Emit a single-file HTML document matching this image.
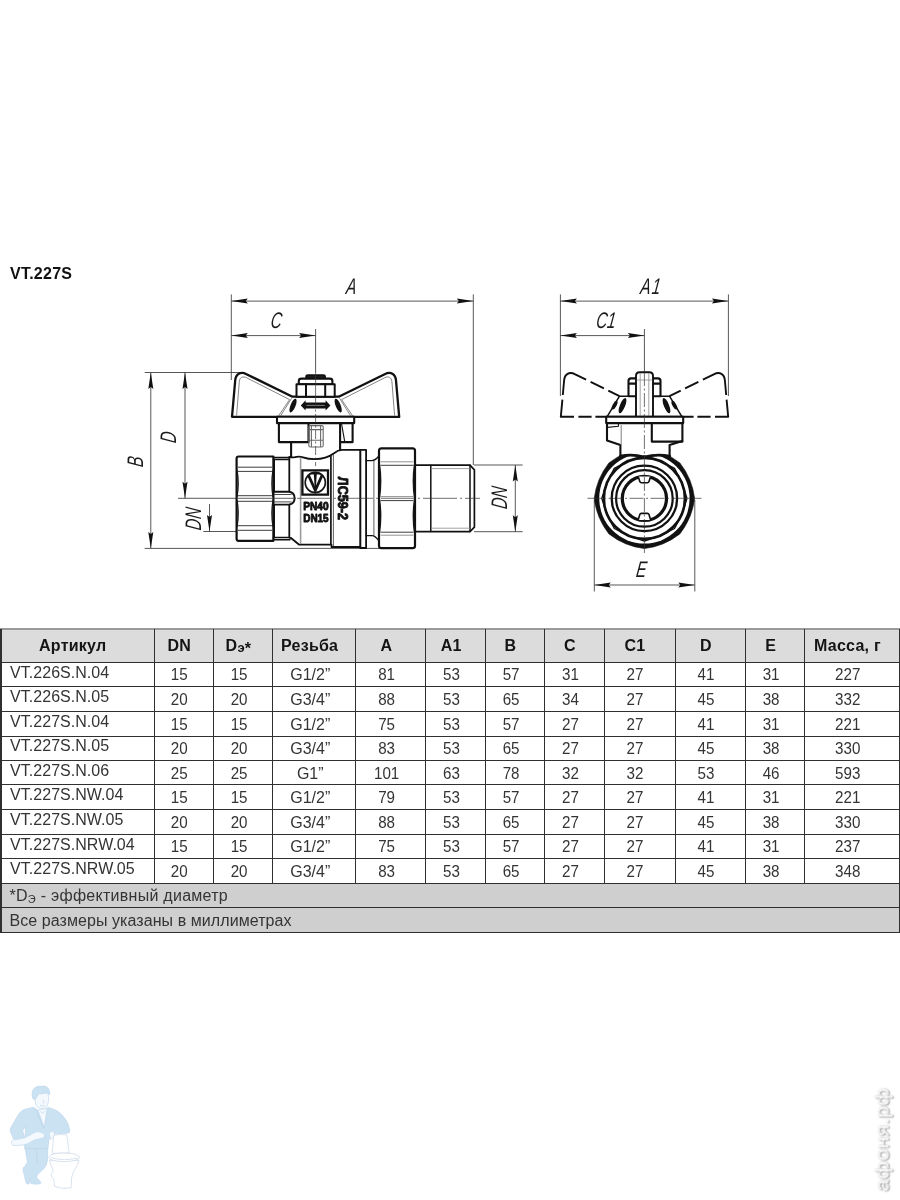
<!DOCTYPE html>
<html lang="ru">
<head>
<meta charset="utf-8">
<title>VT.227S</title>
<style>
html,body{margin:0;padding:0;background:#fff;}
body{width:900px;height:1200px;position:relative;overflow:hidden;font-family:"Liberation Sans",sans-serif;color:#1a1a1a;}
.title{position:absolute;left:9.5px;top:264px;font-weight:bold;font-size:16px;line-height:20px;color:#111;letter-spacing:0.25px;will-change:transform;}
svg.dr{position:absolute;left:0;top:0;will-change:transform;}
.tb{position:absolute;left:0;top:0;width:900px;height:1200px;will-change:transform;}
.tb .bg{position:absolute;left:0;width:900px;}
.tb .hd{background:#dcdcdc;}
.tb .ft{background:#cfcfcf;}
.tb .c{position:absolute;box-sizing:border-box;font-size:16px;white-space:nowrap;color:#343434;}
.tb .h{font-weight:bold;text-align:center;line-height:20px;padding-top:7.1px;color:#141414;letter-spacing:0.25px;transform:translateX(-4.7px);}
.tb .a{text-align:left;padding-left:9.5px;line-height:20px;padding-top:0.3px;font-size:16px;letter-spacing:0.03px;}
.tb .n{text-align:center;line-height:20px;padding-top:2.0px;font-size:16.5px;transform:translateX(-4.4px) scaleX(0.92);}
.tb .n.th{transform:translateX(-4.4px) scaleX(0.97);}
.tb .f{text-align:left;padding-left:9.5px;line-height:20px;padding-top:3px;font-size:16px;letter-spacing:0.07px;}
.tb sub{font-size:11px;vertical-align:baseline;position:relative;top:2px;}
.tb .hl{position:absolute;left:0;width:900px;height:1.2px;background:#303030;}
.tb .hl.top{height:1.6px;background:#9a9a9a;}
.tb .vl{position:absolute;width:1.3px;background:#303030;}
.wmt{position:absolute;left:0;top:0;height:0;white-space:nowrap;font-size:17.5px;line-height:0;letter-spacing:0.2px;color:#fff;text-shadow:-0.4px 1px 1.4px #7d7d7d,0 0 1.2px #b5b5b5;transform-origin:0 0;transform:translate(882.6px,1191.5px) rotate(-90deg) scaleX(1.24);}
.tb .h sub{font-size:13px;top:0.5px;}
.tb .h .as{position:relative;top:3px;}
svg.dr .k{fill:none;stroke:#111;stroke-width:2.1;stroke-linejoin:round;stroke-linecap:round}
svg.dr .kf{fill:#fff;stroke:#111;stroke-width:2.1;stroke-linejoin:round}
svg.dr .m{fill:none;stroke:#151515;stroke-width:1.15;stroke-linejoin:round}
svg.dr .t{fill:none;stroke:#2b2b2b;stroke-width:0.75}
svg.dr .g{fill:none;stroke:#8a8a8a;stroke-width:0.8}
svg.dr .d{fill:none;stroke:#3a3a3a;stroke-width:0.85}
svg.dr .ar{fill:#111;stroke:none}
svg.dr .cl{fill:none;stroke:#333;stroke-width:0.7;stroke-dasharray:14 2.5 2 2.5}
svg.dr .ds{fill:none;stroke:#111;stroke-width:1.9;stroke-dasharray:13.5 5;stroke-linejoin:round}
svg.dr .gt{font-family:"Liberation Sans",sans-serif;font-style:italic;font-size:22.5px;fill:#1c1c1c;text-anchor:middle}
svg.dr .bt{font-family:"Liberation Sans",sans-serif;font-weight:bold;fill:#111}
</style>
</head>
<body>

<div class="title">VT.227S</div>
<svg class="dr" width="900" height="1200" viewBox="0 0 900 1200">


<!-- ===== dimension lines, left view ===== -->
<g class="d">
<path d="M231.3,294.4V380 M473.3,294.4V465 M231.3,301.1H473.3"/>
<path d="M315.6,329V372 M231.3,335.6H315.6"/>
<path d="M144.7,372.5H242 M144.7,548.4H380 M150.8,372.5V548.4 M185,372.5V498.3"/>
<path d="M178,498.3H236 M209.5,504V531.4 M203.3,531.5H236"/>
<path d="M474,465H522.7 M474,531.7H522.7 M515.3,465V531.7"/>
</g>
<g class="ar">
<path d="M0,0 L16.5,-2.5 L14.5,0 L16.5,2.5 Z" transform="translate(231.3,301.1)"/>
<path d="M0,0 L16.5,-2.5 L14.5,0 L16.5,2.5 Z" transform="translate(473.3,301.1) rotate(180)"/>
<path d="M0,0 L16.5,-2.5 L14.5,0 L16.5,2.5 Z" transform="translate(231.3,335.6)"/>
<path d="M0,0 L16.5,-2.5 L14.5,0 L16.5,2.5 Z" transform="translate(315.6,335.6) rotate(180)"/>
<path d="M0,0 L16.5,-2.5 L14.5,0 L16.5,2.5 Z" transform="translate(150.8,372.5) rotate(90)"/>
<path d="M0,0 L16.5,-2.5 L14.5,0 L16.5,2.5 Z" transform="translate(150.8,548.4) rotate(-90)"/>
<path d="M0,0 L16.5,-2.5 L14.5,0 L16.5,2.5 Z" transform="translate(185,372.5) rotate(90)"/>
<path d="M0,0 L16.5,-2.5 L14.5,0 L16.5,2.5 Z" transform="translate(185,498.3) rotate(-90)"/>
<path d="M0,0 L16.5,-2.5 L14.5,0 L16.5,2.5 Z" transform="translate(209.5,531.4) rotate(-90)"/>
<path d="M0,0 L16.5,-2.5 L14.5,0 L16.5,2.5 Z" transform="translate(515.3,465) rotate(90)"/>
<path d="M0,0 L16.5,-2.5 L14.5,0 L16.5,2.5 Z" transform="translate(515.3,531.7) rotate(-90)"/>
</g>
<!-- centre lines left view -->

<!-- ===== dimension lines, right view ===== -->
<g class="d">
<path d="M560.4,294.4V396 M728.4,294.4V396 M560.4,301.1H728.4"/>
<path d="M644.4,329V372 M560.4,335.6H644.4"/>
<path d="M594.3,500V591.5 M694.8,500V591.5 M594.3,585H694.8"/>
</g>
<g class="ar">
<path d="M0,0 L16.5,-2.5 L14.5,0 L16.5,2.5 Z" transform="translate(560.4,301.1)"/>
<path d="M0,0 L16.5,-2.5 L14.5,0 L16.5,2.5 Z" transform="translate(728.4,301.1) rotate(180)"/>
<path d="M0,0 L16.5,-2.5 L14.5,0 L16.5,2.5 Z" transform="translate(560.4,335.6)"/>
<path d="M0,0 L16.5,-2.5 L14.5,0 L16.5,2.5 Z" transform="translate(644.4,335.6) rotate(180)"/>
<path d="M0,0 L16.5,-2.5 L14.5,0 L16.5,2.5 Z" transform="translate(594.3,585)"/>
<path d="M0,0 L16.5,-2.5 L14.5,0 L16.5,2.5 Z" transform="translate(694.8,585) rotate(180)"/>
</g>

<!-- ===== labels ===== -->
<g class="gt">
<text transform="translate(350.5,294) skewX(-7.5) scale(0.68,1)">A</text>
<text transform="translate(275.6,328) skewX(-7.5) scale(0.68,1)">C</text>
<text transform="translate(650.4,293.5) skewX(-7.5) scale(0.68,1)" letter-spacing="2">A1</text>
<text transform="translate(605.2,328) skewX(-7.5) scale(0.68,1)">C1</text>
<text transform="translate(640.6,577) skewX(-7.5) scale(0.68,1)">E</text>
<text transform="translate(143,462.3) rotate(-90) skewX(-7.5) scale(0.68,1)">B</text>
<text transform="translate(176,438) rotate(-90) skewX(-7.5) scale(0.68,1)">D</text>
<text transform="translate(200.8,519.6) rotate(-90) skewX(-7.5) scale(0.68,1)">DN</text>
<text transform="translate(506.8,498.4) rotate(-90) skewX(-7.5) scale(0.68,1)">DN</text>
</g>
<!-- ===== LEFT VIEW ===== -->
<g id="leftview">
<!-- handle wings -->
<path class="k" d="M232,416.8 L235.2,380.5 C235.7,374 240.5,371.2 246.5,374.2 L292.5,396.7 H338.7 L384.7,374.2 C390.7,371.2 395.5,374 396,380.5 L399.2,416.8 Z" style="stroke-width:2.3"/>
<path class="g" d="M236.6,415.5 L239.3,381.5 C239.8,377 243,376 246.6,377.8 L289.6,399.6 L278.6,415.8 M291.6,398.3 L280.6,415.8" style="stroke:#666"/>
<path class="g" d="M394.6,415.5 L391.9,381.5 C391.4,377 388.2,376 384.6,377.8 L341.6,399.6 L352.6,415.8 M339.6,398.3 L350.6,415.8" style="stroke:#666"/>
<!-- top nut -->
<path class="kf" d="M306.3,378.6 V376.4 Q306.3,375.2 307.8,375.2 H323.4 Q324.9,375.2 324.9,376.4 V378.6 Z" style="fill:#222"/>
<path class="kf" d="M298.8,384.2 V381 Q298.8,378.6 301.5,378.6 H329.7 Q332.4,378.6 332.4,381 V384.2 Z"/>
<path class="kf" d="M296.5,384.2 H334.7 V396.7 H296.5 Z" style="stroke-width:2"/>
<path class="k" d="M306,384.2 V396.7 M325.2,384.2 V396.7" style="stroke-width:2"/>
<!-- slots -->
<ellipse cx="293" cy="405.6" rx="2.5" ry="7.4" transform="rotate(22 293 405.6)" fill="#111"/>
<ellipse cx="338.2" cy="405.6" rx="2.5" ry="7.4" transform="rotate(-22 338.2 405.6)" fill="#111"/>
<!-- double arrow -->
<path d="M300.8,405.4 L305.6,400.2 V402.4 H325.6 V400.2 L330.4,405.4 L325.6,410.6 V408.4 H305.6 V410.6 Z" fill="#111"/>
<path d="M306.5,405.4 H324.7" stroke="#999" stroke-width="0.8" fill="none"/>
<!-- plate -->
<path class="kf" d="M277,416.8 H354.2 V423.1 H277 Z"/>
<!-- boxes under plate -->
<path class="k" d="M278.9,423.1 V442.1 H308.5 V423.1"/>
<path class="k" d="M340.1,423.1 V450 M340.1,442.1 H352.6 V423.1"/>
<path class="m" d="M341.6,424 L344.6,441"/>
<!-- screw -->
<path class="g" d="M308.8,427 Q308.8,425.6 310.4,425.6 H321.6 Q323.2,425.6 323.2,427 V445.6 Q323.2,447 321.6,447 H310.4 Q308.8,447 308.8,445.6 Z M308.8,429.6 H323.2 M308.8,440.2 H323.2 M311.4,425.6 V447 M320.6,425.6 V447" style="stroke-width:1.1;stroke:#6a6a6a"/>
<!-- stem -->
<path class="k" d="M291.1,442.1 V457"/>
<!-- hex nut left -->
<path class="kf" d="M238.6,456.5 H273.4 V540.8 H238.6 Q236.6,540.8 236.6,538.8 V458.5 Q236.6,456.5 238.6,456.5 Z" style="stroke-width:2.2"/>
<path class="m" d="M237,470 Q239.4,483.5 237,497 M237,500 Q239.4,513.5 237,527 M273,470 Q270.8,483.5 273,497 M273,500 Q270.8,513.5 273,527" style="stroke-width:1.3"/>
<path class="t" d="M238,467.2 H272 M238,471.4 H272 M238,495.7 H272 M238,501.3 H272 M238,525.7 H272 M238,530.3 H272" style="stroke:#333;stroke-width:0.95"/>
<!-- neck left -->
<path class="k" d="M273.4,457.4 H289.2 M273.4,459.4 H289.2 M273.4,537.6 H289.2 M273.4,539.8 H290" style="stroke-width:1.5"/>
<path class="k" d="M274.2,460 V491.6 M274.2,504.8 V537" style="stroke-width:1.6"/>
<path class="k" d="M273.4,491.8 H289 Q294.6,492.6 294.6,498.2 Q294.6,503.8 289,504.6 H273.4" style="stroke-width:1.9"/>
<path class="t" d="M274,494.5 H291.5 M274,501.9 H291.5" style="stroke:#333;stroke-width:0.9"/>
<!-- body -->
<path class="k" d="M289.3,457 V491.4 M289.3,504.6 V537.6 L291,538 L299.2,544.7 H331.5 V547 H360.3 V548 H366.1 V449.9 H342 Q338,450 334,453.3 Q326,459.2 315,459.2 Q308,459.2 303,457.4 Q299,456 295,457.2 Q292,457.6 289.3,457" style="stroke-width:1.8"/>
<path class="k" d="M360.3,449.9 V547.4" style="stroke-width:2"/>
<path class="g" d="M300.6,457.6 V544" style="stroke-width:1.6;stroke:#9c9c9c"/>
<path class="m" d="M330.9,455.5 V545" style="stroke-width:1.7"/>
<path class="t" d="M333.4,454 V546"/>
<!-- logo -->
<path class="k" d="M302.4,470.4 H328 V494.6 H302.4 Z" style="stroke-width:2.3;stroke-linejoin:miter"/>
<circle class="m" cx="315.3" cy="482.5" r="10.1" style="stroke-width:1.6"/>
<path class="m" d="M308.2,474.6 L315.3,490.4 L322.4,474.6" style="stroke-width:2.7;stroke-linejoin:miter"/>
<path class="m" d="M310.6,473.6 H320" style="stroke-width:1.7"/>
<path d="M313.8,473.6 H316.8 L315.9,487.5 H314.7 Z" fill="#111"/>
<text class="bt" transform="translate(303.2,509.6) scale(0.88,1)" font-size="11.6" stroke="#111" stroke-width="0.9" stroke-linejoin="round">PN40</text>
<text class="bt" transform="translate(303.2,522.3) scale(0.86,1)" font-size="11.6" stroke="#111" stroke-width="0.9" stroke-linejoin="round">DN15</text>
<text class="bt" transform="translate(338,476.8) rotate(90) scale(0.84,1)" font-size="15" stroke="#111" stroke-width="0.9" stroke-linejoin="round">ЛС59-2</text>
<!-- neck right -->
<path class="k" d="M366.1,460.6 H372 Q375,460.6 378.9,456 M366.1,535.6 H372 Q375,535.6 378.9,540.6" style="stroke-width:1.4"/>
<path class="t" d="M373.9,460.6 V535.6"/>
<!-- union nut -->
<path class="kf" d="M381.4,448.4 H412.6 Q415,448.4 415,450.8 V545.8 Q415,548.2 412.6,548.2 H381.4 Q379,548.2 379,545.8 V450.8 Q379,448.4 381.4,448.4 Z" style="stroke-width:2.2"/>
<path class="m" d="M379.4,464 Q382,481 379.4,498 M379.4,499 Q382,516 379.4,533 M414.6,464 Q412,481 414.6,498 M414.6,499 Q412,516 414.6,533" style="stroke-width:1.4"/>
<path class="g" d="M380.6,461.8 H413.4 M380.6,496.6 H413.4 M380.6,535.2 H413.4" style="stroke:#777"/>
<path class="t" d="M380.6,465.3 H413.4 M380.6,500.6 H413.4 M380.6,532.2 H413.4" style="stroke:#333;stroke-width:0.95"/>
<!-- male thread -->
<path class="k" d="M415,465.2 H470 L474.4,469.8 V527.2 L470,531.6 H415" style="stroke-width:1.7"/>
<path class="k" d="M430.8,465.2 V531.6 M470,465.2 V531.6" style="stroke-width:1.5"/>
<path class="g" d="M431,468.6 H470 M431,528.2 H470"/>
</g>

<!-- ===== RIGHT VIEW ===== -->
<g id="rightview">
<!-- body circles -->
<path d="M694.6,498.4 Q692.2,478.6 679.9,462.9 Q664.2,450.6 644.4,448.2 Q624.6,450.6 608.9,462.9 Q596.6,478.6 594.2,498.4 Q596.6,518.2 608.9,533.9 Q624.6,546.2 644.4,548.6 Q664.2,546.2 679.9,533.9 Q692.2,518.2 694.6,498.4 Z" fill="#111" stroke="#111" stroke-width="0.6" stroke-linejoin="round"/>
<circle cx="644.4" cy="498.4" r="45.2" fill="#fff"/>
<path d="M621.6,440 H668.4 V455.4 H621.6 Z" fill="#fff"/>
<path class="k" d="M687.0,498.4 Q682.6,482.6 674.5,468.3 Q660.2,460.2 644.4,455.8 Q628.6,460.2 614.3,468.3 Q606.2,482.6 601.8,498.4 Q606.2,514.2 614.3,528.5 Q628.6,536.6 644.4,541.0 Q660.2,536.6 674.5,528.5 Q682.6,514.2 687.0,498.4 Z" style="stroke-width:1.4"/>
<circle class="k" cx="644.4" cy="498.4" r="40.5" style="stroke-width:2.6"/>
<circle class="k" cx="644.4" cy="498.4" r="32.7" style="stroke-width:2.3"/>
<circle class="k" cx="644.4" cy="498.4" r="28.3" style="stroke-width:2.2"/>
<circle class="k" cx="644.4" cy="498.4" r="22.1" style="stroke-width:3.2"/>
<path class="k" d="M620.4,456.2 Q632,453.8 644.4,457 Q656.8,453.8 669.6,456.2" style="stroke-width:2.8"/>
<!-- keys -->
<path class="kf" d="M638.2,476.6 L639.8,481.6 Q640.2,482.8 641.4,482.8 H647.4 Q648.6,482.8 649,481.6 L650.6,476.6" style="stroke-width:1.6"/>
<path class="kf" d="M638.2,520 L639.8,514.6 Q640.2,513.4 641.4,513.4 H647.4 Q648.6,513.4 649,514.6 L650.6,520" style="stroke-width:1.6"/>

<!-- dashed handle wings -->
<path class="k" d="M619.5,396.2 L608.3,390.6 M603.9,388.4 L590.6,381.8 M586.1,379.6 L575.2,374.3 C569.2,371.3 564.6,374 564.1,380.5 L562.8,395 M562.4,399.6 L560.8,416.8 L574.0,416.8 M578.4,416.8 L591.6,416.8 M595.4,416.8 L607.0,416.8" style="stroke-width:1.9;stroke-linecap:butt"/>
<path class="k" d="M669.5,396.2 L680.7,390.6 M685.1,388.4 L698.4,381.8 M702.9,379.6 L713.8,374.3 C719.8,371.3 724.4,374 724.9,380.5 L726.2,395 M726.6,399.6 L728.2,416.8 L715.0,416.8 M710.6,416.8 L697.4,416.8 M693.6,416.8 L682.0,416.8" style="stroke-width:1.9;stroke-linecap:butt"/>
<path class="k" d="M607,416.8 H682" />
<!-- hub -->
<path class="k" d="M628.5,396.2 H619.5 L607,416.8 M660.5,396.2 H669.5 L682,416.8" style="stroke-width:1.5"/>
<!-- side nut bits -->
<path class="k" d="M636,378.4 H631 Q628.5,378.4 628.5,381 V396.2 H636 M653,378.4 H658 Q660.5,378.4 660.5,381 V396.2 H653 M628.5,383.6 H636 M653,383.6 H660.5"/>
<!-- stud -->
<path class="kf" d="M636,416.8 V376 Q636,372.3 639.6,372.3 H649.4 Q653,372.3 653,376 V416.8 Z" style="stroke-width:1.9"/>
<path class="g" d="M640.2,373 V416 M648.8,373 V416 M636.5,380 H652.5"/>
<!-- slots -->
<ellipse cx="622.5" cy="405.6" rx="2.6" ry="8.2" transform="rotate(22 622.5 405.6)" fill="#111"/>
<ellipse cx="614.6" cy="405.2" rx="1.9" ry="4.8" transform="rotate(30 614.6 405.2)" fill="#111"/>
<ellipse cx="666.5" cy="405.6" rx="2.6" ry="8.2" transform="rotate(-22 666.5 405.6)" fill="#111"/>
<ellipse cx="674.4" cy="405.2" rx="1.9" ry="4.8" transform="rotate(-30 674.4 405.2)" fill="#111"/>
<!-- plate -->
<path class="kf" d="M606.2,416.8 H683.2 V423.1 H606.2 Z"/>
<!-- housing under plate -->
<path class="k" d="M607,423.1 V440.4 L620.4,445 V456.6 M682.4,423.1 V441 L669.6,445 V456.6"/>
<path class="k" d="M651.8,423.1 V441.6 H682.4" />
<path class="m" d="M607.5,427.4 L618.4,426.2 V424" />
<path class="g" d="M621.2,425 V445" style="stroke-width:1.1"/>
</g>

<!-- centre lines -->
<path class="d" d="M236,498.3H296" style="stroke-width:0.8"/>
<path class="cl" d="M297,498.3H480" style="stroke-dasharray:34 3 2 3"/>
<path class="d" d="M315.6,372V398" style="stroke-width:0.7"/>
<path class="cl" d="M315.6,398V466" style="stroke-dasharray:9 2.5 2 2.5"/>
<path class="cl" d="M587.5,498.3H701.5"/>
<path class="cl" d="M644.4,372V553"/>
</svg>

<div class="tb">
<div class="bg hd" style="top:629px;height:33.4px"></div>
<div class="bg ft" style="top:883.3px;height:48.8px"></div>
<div class="c h" style="left:0.6px;width:153.7px;top:629px;height:33.4px">Артикул</div>
<div class="c h" style="left:154.3px;width:59.4px;top:629px;height:33.4px">DN</div>
<div class="c h" style="left:213.7px;width:59.0px;top:629px;height:33.4px">D<sub>э</sub><span class="as">*</span></div>
<div class="c h" style="left:272.7px;width:83.3px;top:629px;height:33.4px">Резьба</div>
<div class="c h" style="left:356px;width:70px;top:629px;height:33.4px">A</div>
<div class="c h" style="left:426px;width:59.7px;top:629px;height:33.4px">A1</div>
<div class="c h" style="left:485.7px;width:59px;top:629px;height:33.4px">B</div>
<div class="c h" style="left:544.7px;width:59.6px;top:629px;height:33.4px">C</div>
<div class="c h" style="left:604.3px;width:70.9px;top:629px;height:33.4px">C1</div>
<div class="c h" style="left:675.2px;width:70.8px;top:629px;height:33.4px">D</div>
<div class="c h" style="left:746px;width:59px;top:629px;height:33.4px">E</div>
<div class="c h" style="left:805px;width:94.4px;top:629px;height:33.4px">Масса, г</div>
<div class="c a" style="left:0.6px;width:153.7px;top:662.4px;height:24.6px">VT.226S.N.04</div>
<div class="c n" style="left:154.3px;width:59.4px;top:662.4px;height:24.6px">15</div>
<div class="c n" style="left:213.7px;width:59.0px;top:662.4px;height:24.6px">15</div>
<div class="c n th" style="left:272.7px;width:83.3px;top:662.4px;height:24.6px">G1/2”</div>
<div class="c n" style="left:356px;width:70px;top:662.4px;height:24.6px">81</div>
<div class="c n" style="left:426px;width:59.7px;top:662.4px;height:24.6px">53</div>
<div class="c n" style="left:485.7px;width:59px;top:662.4px;height:24.6px">57</div>
<div class="c n" style="left:544.7px;width:59.6px;top:662.4px;height:24.6px">31</div>
<div class="c n" style="left:604.3px;width:70.9px;top:662.4px;height:24.6px">27</div>
<div class="c n" style="left:675.2px;width:70.8px;top:662.4px;height:24.6px">41</div>
<div class="c n" style="left:746px;width:59px;top:662.4px;height:24.6px">31</div>
<div class="c n" style="left:805px;width:94.4px;top:662.4px;height:24.6px">227</div>
<div class="c a" style="left:0.6px;width:153.7px;top:687.0px;height:24.6px">VT.226S.N.05</div>
<div class="c n" style="left:154.3px;width:59.4px;top:687.0px;height:24.6px">20</div>
<div class="c n" style="left:213.7px;width:59.0px;top:687.0px;height:24.6px">20</div>
<div class="c n th" style="left:272.7px;width:83.3px;top:687.0px;height:24.6px">G3/4”</div>
<div class="c n" style="left:356px;width:70px;top:687.0px;height:24.6px">88</div>
<div class="c n" style="left:426px;width:59.7px;top:687.0px;height:24.6px">53</div>
<div class="c n" style="left:485.7px;width:59px;top:687.0px;height:24.6px">65</div>
<div class="c n" style="left:544.7px;width:59.6px;top:687.0px;height:24.6px">34</div>
<div class="c n" style="left:604.3px;width:70.9px;top:687.0px;height:24.6px">27</div>
<div class="c n" style="left:675.2px;width:70.8px;top:687.0px;height:24.6px">45</div>
<div class="c n" style="left:746px;width:59px;top:687.0px;height:24.6px">38</div>
<div class="c n" style="left:805px;width:94.4px;top:687.0px;height:24.6px">332</div>
<div class="c a" style="left:0.6px;width:153.7px;top:711.6px;height:24.6px">VT.227S.N.04</div>
<div class="c n" style="left:154.3px;width:59.4px;top:711.6px;height:24.6px">15</div>
<div class="c n" style="left:213.7px;width:59.0px;top:711.6px;height:24.6px">15</div>
<div class="c n th" style="left:272.7px;width:83.3px;top:711.6px;height:24.6px">G1/2”</div>
<div class="c n" style="left:356px;width:70px;top:711.6px;height:24.6px">75</div>
<div class="c n" style="left:426px;width:59.7px;top:711.6px;height:24.6px">53</div>
<div class="c n" style="left:485.7px;width:59px;top:711.6px;height:24.6px">57</div>
<div class="c n" style="left:544.7px;width:59.6px;top:711.6px;height:24.6px">27</div>
<div class="c n" style="left:604.3px;width:70.9px;top:711.6px;height:24.6px">27</div>
<div class="c n" style="left:675.2px;width:70.8px;top:711.6px;height:24.6px">41</div>
<div class="c n" style="left:746px;width:59px;top:711.6px;height:24.6px">31</div>
<div class="c n" style="left:805px;width:94.4px;top:711.6px;height:24.6px">221</div>
<div class="c a" style="left:0.6px;width:153.7px;top:736.2px;height:24.5px">VT.227S.N.05</div>
<div class="c n" style="left:154.3px;width:59.4px;top:736.2px;height:24.5px">20</div>
<div class="c n" style="left:213.7px;width:59.0px;top:736.2px;height:24.5px">20</div>
<div class="c n th" style="left:272.7px;width:83.3px;top:736.2px;height:24.5px">G3/4”</div>
<div class="c n" style="left:356px;width:70px;top:736.2px;height:24.5px">83</div>
<div class="c n" style="left:426px;width:59.7px;top:736.2px;height:24.5px">53</div>
<div class="c n" style="left:485.7px;width:59px;top:736.2px;height:24.5px">65</div>
<div class="c n" style="left:544.7px;width:59.6px;top:736.2px;height:24.5px">27</div>
<div class="c n" style="left:604.3px;width:70.9px;top:736.2px;height:24.5px">27</div>
<div class="c n" style="left:675.2px;width:70.8px;top:736.2px;height:24.5px">45</div>
<div class="c n" style="left:746px;width:59px;top:736.2px;height:24.5px">38</div>
<div class="c n" style="left:805px;width:94.4px;top:736.2px;height:24.5px">330</div>
<div class="c a" style="left:0.6px;width:153.7px;top:760.7px;height:24.4px">VT.227S.N.06</div>
<div class="c n" style="left:154.3px;width:59.4px;top:760.7px;height:24.4px">25</div>
<div class="c n" style="left:213.7px;width:59.0px;top:760.7px;height:24.4px">25</div>
<div class="c n th" style="left:272.7px;width:83.3px;top:760.7px;height:24.4px">G1”</div>
<div class="c n" style="left:356px;width:70px;top:760.7px;height:24.4px">101</div>
<div class="c n" style="left:426px;width:59.7px;top:760.7px;height:24.4px">63</div>
<div class="c n" style="left:485.7px;width:59px;top:760.7px;height:24.4px">78</div>
<div class="c n" style="left:544.7px;width:59.6px;top:760.7px;height:24.4px">32</div>
<div class="c n" style="left:604.3px;width:70.9px;top:760.7px;height:24.4px">32</div>
<div class="c n" style="left:675.2px;width:70.8px;top:760.7px;height:24.4px">53</div>
<div class="c n" style="left:746px;width:59px;top:760.7px;height:24.4px">46</div>
<div class="c n" style="left:805px;width:94.4px;top:760.7px;height:24.4px">593</div>
<div class="c a" style="left:0.6px;width:153.7px;top:785.1px;height:24.6px">VT.227S.NW.04</div>
<div class="c n" style="left:154.3px;width:59.4px;top:785.1px;height:24.6px">15</div>
<div class="c n" style="left:213.7px;width:59.0px;top:785.1px;height:24.6px">15</div>
<div class="c n th" style="left:272.7px;width:83.3px;top:785.1px;height:24.6px">G1/2”</div>
<div class="c n" style="left:356px;width:70px;top:785.1px;height:24.6px">79</div>
<div class="c n" style="left:426px;width:59.7px;top:785.1px;height:24.6px">53</div>
<div class="c n" style="left:485.7px;width:59px;top:785.1px;height:24.6px">57</div>
<div class="c n" style="left:544.7px;width:59.6px;top:785.1px;height:24.6px">27</div>
<div class="c n" style="left:604.3px;width:70.9px;top:785.1px;height:24.6px">27</div>
<div class="c n" style="left:675.2px;width:70.8px;top:785.1px;height:24.6px">41</div>
<div class="c n" style="left:746px;width:59px;top:785.1px;height:24.6px">31</div>
<div class="c n" style="left:805px;width:94.4px;top:785.1px;height:24.6px">221</div>
<div class="c a" style="left:0.6px;width:153.7px;top:809.7px;height:24.6px">VT.227S.NW.05</div>
<div class="c n" style="left:154.3px;width:59.4px;top:809.7px;height:24.6px">20</div>
<div class="c n" style="left:213.7px;width:59.0px;top:809.7px;height:24.6px">20</div>
<div class="c n th" style="left:272.7px;width:83.3px;top:809.7px;height:24.6px">G3/4”</div>
<div class="c n" style="left:356px;width:70px;top:809.7px;height:24.6px">88</div>
<div class="c n" style="left:426px;width:59.7px;top:809.7px;height:24.6px">53</div>
<div class="c n" style="left:485.7px;width:59px;top:809.7px;height:24.6px">65</div>
<div class="c n" style="left:544.7px;width:59.6px;top:809.7px;height:24.6px">27</div>
<div class="c n" style="left:604.3px;width:70.9px;top:809.7px;height:24.6px">27</div>
<div class="c n" style="left:675.2px;width:70.8px;top:809.7px;height:24.6px">45</div>
<div class="c n" style="left:746px;width:59px;top:809.7px;height:24.6px">38</div>
<div class="c n" style="left:805px;width:94.4px;top:809.7px;height:24.6px">330</div>
<div class="c a" style="left:0.6px;width:153.7px;top:834.3px;height:24.5px">VT.227S.NRW.04</div>
<div class="c n" style="left:154.3px;width:59.4px;top:834.3px;height:24.5px">15</div>
<div class="c n" style="left:213.7px;width:59.0px;top:834.3px;height:24.5px">15</div>
<div class="c n th" style="left:272.7px;width:83.3px;top:834.3px;height:24.5px">G1/2”</div>
<div class="c n" style="left:356px;width:70px;top:834.3px;height:24.5px">75</div>
<div class="c n" style="left:426px;width:59.7px;top:834.3px;height:24.5px">53</div>
<div class="c n" style="left:485.7px;width:59px;top:834.3px;height:24.5px">57</div>
<div class="c n" style="left:544.7px;width:59.6px;top:834.3px;height:24.5px">27</div>
<div class="c n" style="left:604.3px;width:70.9px;top:834.3px;height:24.5px">27</div>
<div class="c n" style="left:675.2px;width:70.8px;top:834.3px;height:24.5px">41</div>
<div class="c n" style="left:746px;width:59px;top:834.3px;height:24.5px">31</div>
<div class="c n" style="left:805px;width:94.4px;top:834.3px;height:24.5px">237</div>
<div class="c a" style="left:0.6px;width:153.7px;top:858.8px;height:24.5px">VT.227S.NRW.05</div>
<div class="c n" style="left:154.3px;width:59.4px;top:858.8px;height:24.5px">20</div>
<div class="c n" style="left:213.7px;width:59.0px;top:858.8px;height:24.5px">20</div>
<div class="c n th" style="left:272.7px;width:83.3px;top:858.8px;height:24.5px">G3/4”</div>
<div class="c n" style="left:356px;width:70px;top:858.8px;height:24.5px">83</div>
<div class="c n" style="left:426px;width:59.7px;top:858.8px;height:24.5px">53</div>
<div class="c n" style="left:485.7px;width:59px;top:858.8px;height:24.5px">65</div>
<div class="c n" style="left:544.7px;width:59.6px;top:858.8px;height:24.5px">27</div>
<div class="c n" style="left:604.3px;width:70.9px;top:858.8px;height:24.5px">27</div>
<div class="c n" style="left:675.2px;width:70.8px;top:858.8px;height:24.5px">45</div>
<div class="c n" style="left:746px;width:59px;top:858.8px;height:24.5px">38</div>
<div class="c n" style="left:805px;width:94.4px;top:858.8px;height:24.5px">348</div>
<div class="c f" style="left:0;width:900px;top:883.3px;height:24.6px;letter-spacing:0.27px">*D<sub>Э</sub> - эффективный диаметр</div>
<div class="c f" style="left:0;width:900px;top:907.9px;height:24.2px">Все размеры указаны в миллиметрах</div>
<div class="hl top" style="top:628.1px"></div>
<div class="hl" style="top:662px"></div>
<div class="hl" style="top:686px"></div>
<div class="hl" style="top:711px"></div>
<div class="hl" style="top:736px"></div>
<div class="hl" style="top:760px"></div>
<div class="hl" style="top:784px"></div>
<div class="hl" style="top:809px"></div>
<div class="hl" style="top:834px"></div>
<div class="hl" style="top:858px"></div>
<div class="hl" style="top:883px"></div>
<div class="hl" style="top:907px"></div>
<div class="hl" style="top:932px"></div>
<div class="vl" style="left:0;width:1.6px;top:628.5px;height:304.1px"></div>
<div class="vl" style="left:898.8px;width:1.2px;top:628.5px;height:304.1px"></div>
<div class="vl" style="left:154px;top:629px;height:254.3px"></div>
<div class="vl" style="left:213px;top:629px;height:254.3px"></div>
<div class="vl" style="left:272px;top:629px;height:254.3px"></div>
<div class="vl" style="left:355px;top:629px;height:254.3px"></div>
<div class="vl" style="left:425px;top:629px;height:254.3px"></div>
<div class="vl" style="left:485px;top:629px;height:254.3px"></div>
<div class="vl" style="left:544px;top:629px;height:254.3px"></div>
<div class="vl" style="left:604px;top:629px;height:254.3px"></div>
<div class="vl" style="left:675px;top:629px;height:254.3px"></div>
<div class="vl" style="left:745px;top:629px;height:254.3px"></div>
<div class="vl" style="left:804px;top:629px;height:254.3px"></div>
</div>
<svg class="lg" width="100" height="125" viewBox="0 1075 100 125" style="position:absolute;left:0;top:1075px">
<g stroke="#bcd6eb" stroke-width="0.7" stroke-linejoin="round" fill="#cbe2f3">
<!-- legs -->
<path d="M25,1147.4 L47.8,1147.4 L47.4,1160 Q47.2,1165.4 43,1169.6 L37.4,1174.6 L36.6,1178 Q40.6,1181 41,1183 Q38.4,1184.6 34.6,1184 L31,1183.6 L30,1178.6 L29,1184 Q26.4,1184.4 26,1182.6 L23,1169.6 Q22.6,1167.4 25.4,1166 L27.4,1162 Z"/>
<!-- jacket -->
<path d="M33.4,1107.4 Q26.6,1108.6 22.6,1110.2 Q19,1112.6 16.6,1117.6 L10.4,1128.6 Q9.8,1130 10.4,1131.6 L14.6,1141 L24.6,1137.6 L22.6,1130.8 L25.6,1125.8 L24.6,1148.6 L47.8,1148.6 L49.2,1138.6 L52,1133.6 L67.4,1133.2 Q70,1132.6 69.8,1130.6 Q68.6,1124 66,1120 Q62,1114 57.4,1111 Q53,1108.6 47.8,1107.4 L44.2,1127.8 L37.6,1110 Z"/>
<!-- hair -->
<path d="M32.8,1098.6 C30.2,1089.6 35.4,1085.6 41,1086.4 C46.8,1085 50.6,1089 49.4,1095 L47.8,1092.8 L39,1093.8 L35.4,1100 Z"/>
</g>
<g stroke="#c3d9ec" stroke-width="0.7" stroke-linejoin="round" fill="#f4f9fd">
<!-- face -->
<path d="M35,1100 L38.8,1094 L47.8,1093 C49.2,1098.6 48.6,1104.4 46,1107.6 C42.8,1109.2 38.6,1108.4 36,1105.6 Z"/>
<!-- shirt -->
<path d="M37.8,1109.8 L47.2,1108.6 L44.2,1127.6 Z"/>
<!-- hands -->
<path d="M11.6,1141.4 Q12.6,1139 16,1139.6 L24.6,1137.8 L31.6,1134.2 Q35,1131.4 38.4,1131.6 L44.6,1133.8 L44,1137.8 L35,1139.8 L27,1144 Q20,1146 13,1145.4 Q11,1144 11.6,1141.4 Z"/>
<path d="M49,1133.6 Q51,1130.6 53.6,1131 L54.8,1135.6 L50.8,1139.6 Z"/>
</g>
<g stroke="#d0dcea" stroke-width="0.8" stroke-linejoin="round" fill="#fff">
<!-- toilet tank -->
<path d="M53.6,1135.6 Q60,1133.4 66.8,1135 L69.2,1153 L52.2,1153.4 Z"/>
<!-- bowl -->
<path d="M49.6,1160.4 C50.6,1166 53.6,1169 53,1171.6 C50.4,1174 50.8,1177.6 53.4,1178.4 L54.8,1186.6 Q62.6,1189.6 71.2,1187.8 L71.6,1177.6 C73,1170 78,1166.6 79,1160.4 Z"/>
<ellipse cx="64.2" cy="1157.3" rx="15.5" ry="4.3"/>
<path d="M51,1157.6 Q64,1161.6 78,1157.8" fill="none"/>
</g>
<g fill="none" stroke="#b5d0e7" stroke-width="0.6">
<path d="M40.2,1111.4 L42.6,1113.2 L45.6,1110.8 M43,1099.6 L43.8,1103.4 M40,1105.2 Q42.4,1106.8 45,1105.2 M36.4,1149 L37.6,1164 M33.4,1107.6 L36.6,1112 L43.6,1128.6"/>
</g>
</svg>
<div class="wmt">афоня.рф</div>

</body>
</html>
